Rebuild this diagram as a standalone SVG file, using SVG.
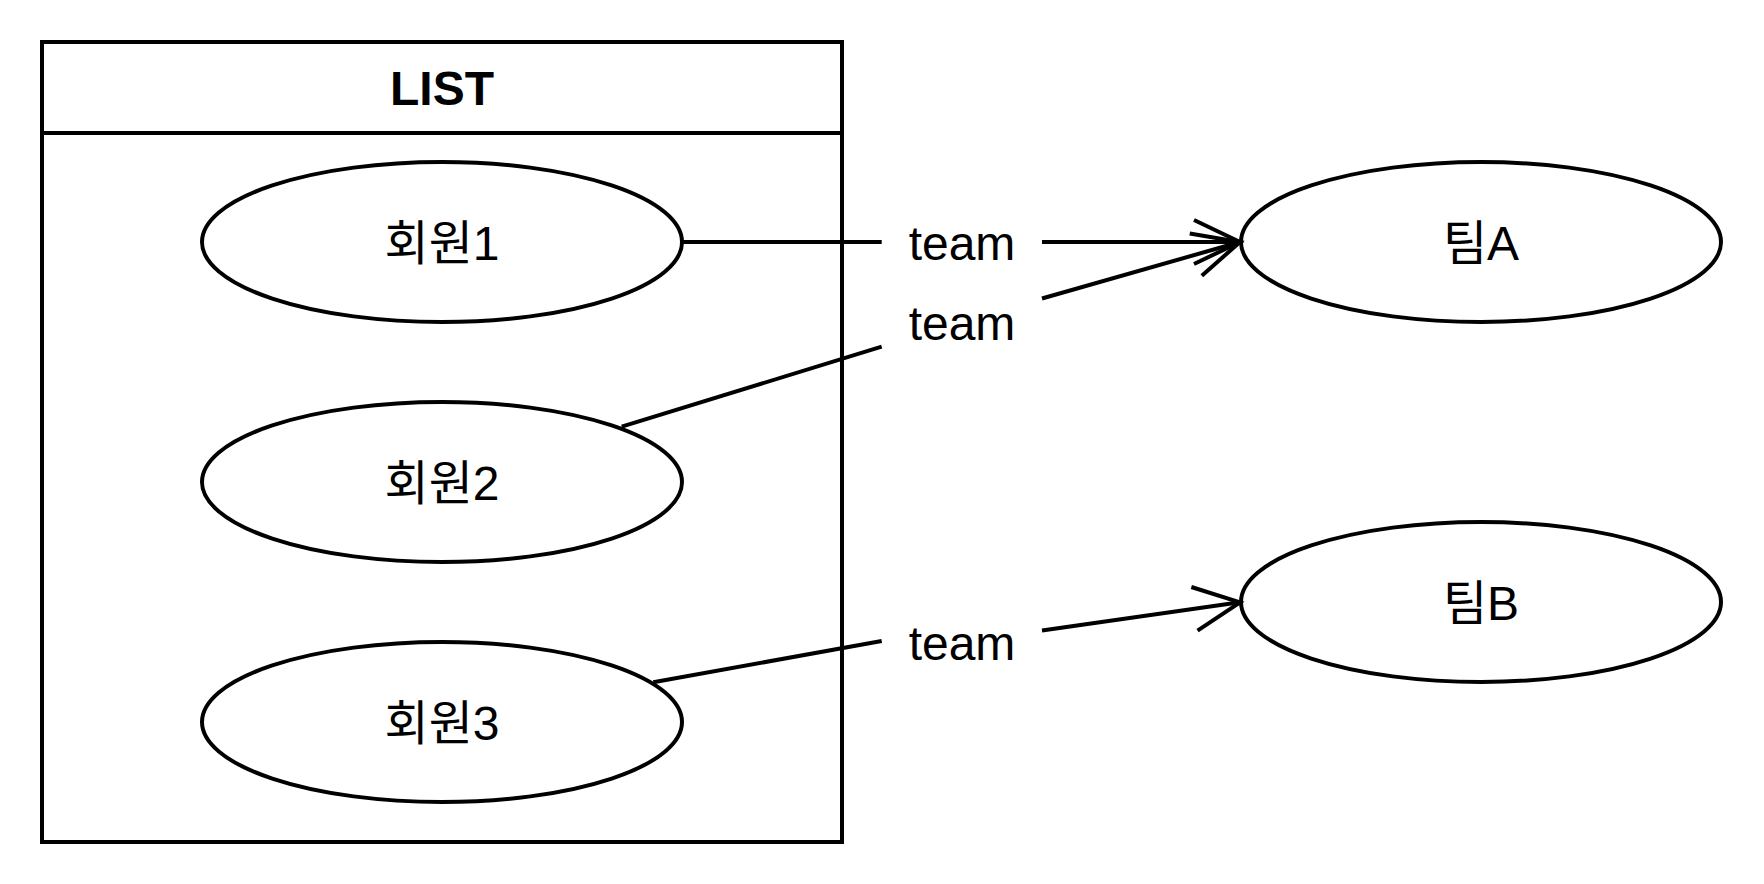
<svg xmlns="http://www.w3.org/2000/svg" width="1764" height="884" viewBox="0 0 1764 884">
  <style>
    .shape { fill: #ffffff; stroke: #000000; stroke-width: 4; }
    .edge { fill: none; stroke: #000000; stroke-width: 4; }
    .lbl { font-family: "Liberation Sans", "Noto Sans CJK KR", Arial, sans-serif; font-size: 48px; fill: #000000; text-anchor: middle; }
    .title { font-family: "Liberation Sans", Arial, sans-serif; font-size: 48px; font-weight: bold; fill: #000000; text-anchor: middle; }
  </style>
  <defs>
    <marker id="open" markerUnits="userSpaceOnUse" markerWidth="60" markerHeight="60" viewBox="-50 -30 60 60" refX="0" refY="0" orient="auto" overflow="visible">
      <path d="M-46,-22 L0,0 L-46,22" fill="none" stroke="#000000" stroke-width="4"/>
    </marker>
  </defs>
  <rect x="0" y="0" width="1764" height="884" fill="#ffffff"/>

  <g id="list">
    <rect class="shape" x="42" y="42" width="800" height="800"/>
    <line class="edge" x1="42" y1="133" x2="842" y2="133"/>
    <text class="title" x="442" y="105">LIST</text>
  </g>

  <g id="member1">
    <ellipse class="shape" cx="442" cy="242" rx="240" ry="80"/>
    <text class="lbl" x="442" y="260">회원1</text>
  </g>
  <g id="member2">
    <ellipse class="shape" cx="442" cy="482" rx="240" ry="80"/>
    <text class="lbl" x="442" y="500">회원2</text>
  </g>
  <g id="member3">
    <ellipse class="shape" cx="442" cy="722" rx="240" ry="80"/>
    <text class="lbl" x="442" y="740">회원3</text>
  </g>

  <g id="teamA">
    <ellipse class="shape" cx="1481" cy="242" rx="240" ry="80"/>
    <text class="lbl" x="1481" y="260">팀A</text>
  </g>
  <g id="teamB">
    <ellipse class="shape" cx="1481" cy="602" rx="240" ry="80"/>
    <text class="lbl" x="1481" y="620">팀B</text>
  </g>

  <g id="connectors">
    <path class="edge" d="M682,242 L881.7,242 M1042,242 L1240,242" marker-end="url(#open)"/>
    <path class="edge" d="M621.7,426.7 L881.7,346.7 M1042,298.5 L1240,242" marker-end="url(#open)"/>
    <path class="edge" d="M653.3,682.3 L881.7,641 M1042,630.5 L1240,602.3" marker-end="url(#open)"/>
    <text class="lbl" x="962" y="260">team</text>
    <text class="lbl" x="962" y="340">team</text>
    <text class="lbl" x="962" y="660">team</text>
  </g>
</svg>
